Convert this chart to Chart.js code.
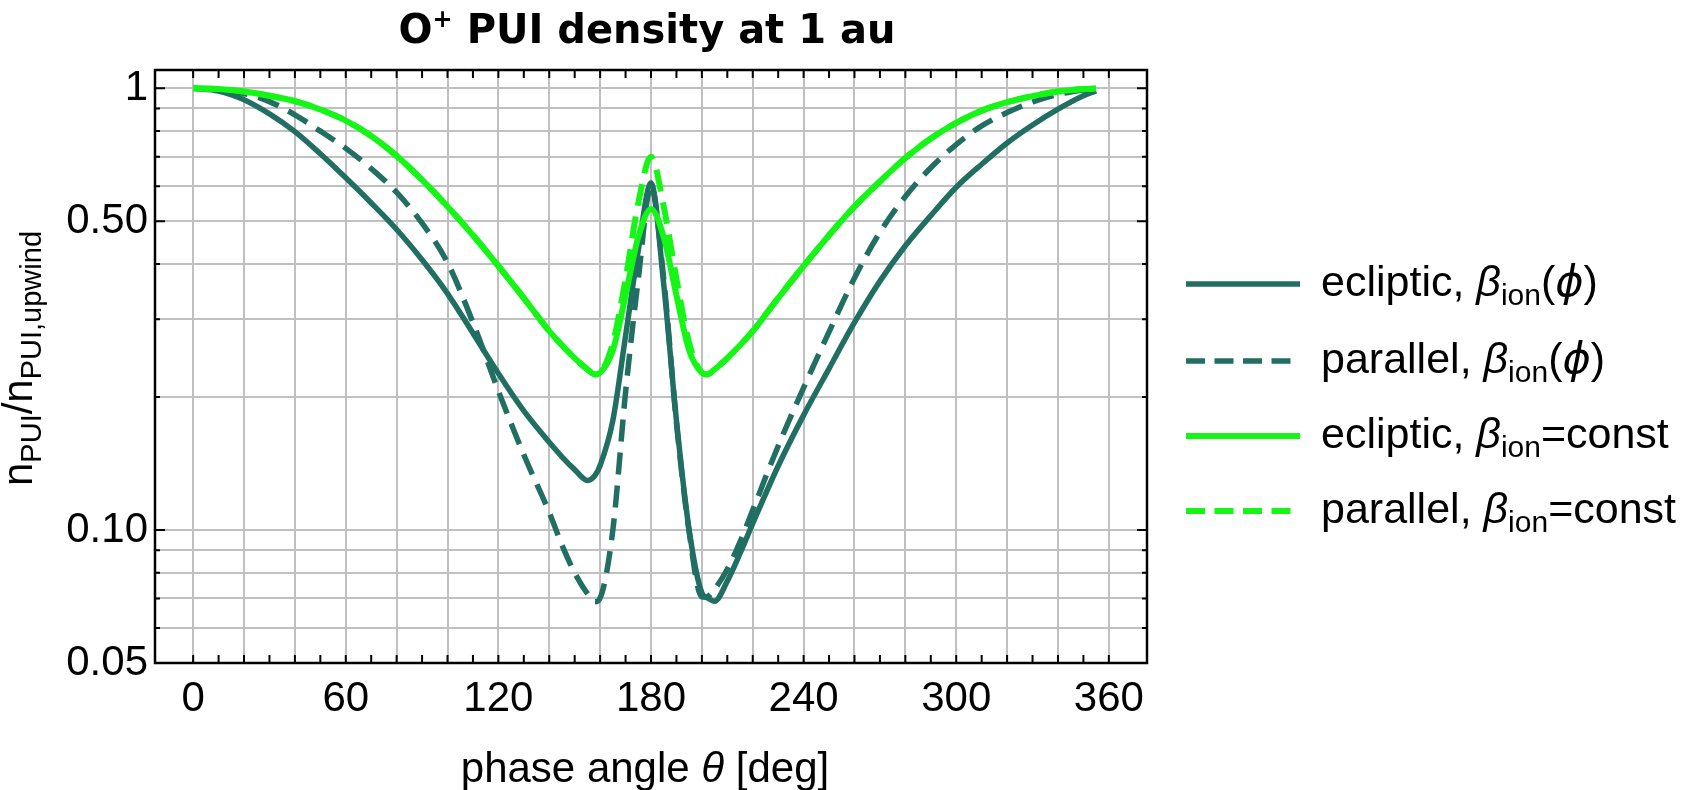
<!DOCTYPE html>
<html>
<head>
<meta charset="utf-8">
<title>O+ PUI density at 1 au</title>
<script src="https://cdn.jsdelivr.net/npm/chart.js@4.4.1/dist/chart.umd.min.js"></script>
<style>
  html, body { margin: 0; padding: 0; background: #fff; }
  canvas { display: block; }
</style>
</head>
<body>
<canvas id="pui-chart" width="1686" height="790"></canvas>
<script>
// phase angle theta [deg], finer sampling around the downwind focusing cone
const phaseAngle = [0, 10, 20, 30, 40, 50, 60, 70, 80, 90, 100, 110, 120, 130, 140,
    145, 150, 155, 158, 160, 165, 170, 175, 180, 185, 190, 195, 200, 202, 205, 210, 215,
    220, 230, 240, 250, 260, 270, 280, 290, 300, 310, 320, 330, 340, 350, 355];

// n_PUI / n_PUI,upwind
const eclipticPhi = [1.0, 0.986, 0.942, 0.875, 0.798, 0.711, 0.627, 0.55, 0.479, 0.409, 0.343, 0.279, 0.226, 0.186, 0.158,
    0.1465, 0.137, 0.1295, 0.133, 0.14, 0.177, 0.275, 0.43, 0.61, 0.36, 0.177, 0.1, 0.072, 0.0703, 0.069, 0.0766, 0.0885,
    0.1035, 0.1396, 0.182, 0.232, 0.295, 0.366, 0.44, 0.515, 0.597, 0.673, 0.752, 0.826, 0.897, 0.962, 0.986];

const parallelPhi = [1.0, 0.993, 0.973, 0.933, 0.871, 0.80, 0.731, 0.658, 0.581, 0.495, 0.403, 0.295, 0.2065, 0.148, 0.1096,
    0.0925, 0.08, 0.0718, 0.0688, 0.0702, 0.10, 0.205, 0.37, 0.60, 0.37, 0.175, 0.099, 0.0705, 0.0706, 0.0735, 0.0815, 0.094,
    0.111, 0.155, 0.21, 0.281, 0.372, 0.472, 0.569, 0.661, 0.746, 0.822, 0.881, 0.931, 0.968, 0.991, 0.998];

const eclipticConst = [1.0, 0.996, 0.983, 0.962, 0.935, 0.895, 0.845, 0.78, 0.703, 0.62, 0.54, 0.465, 0.396, 0.335, 0.282,
    0.262, 0.245, 0.231, 0.225, 0.227, 0.255, 0.34, 0.46, 0.533, 0.46, 0.34, 0.255, 0.227, 0.225, 0.231, 0.245, 0.262,
    0.282, 0.335, 0.396, 0.465, 0.54, 0.615, 0.695, 0.77, 0.835, 0.89, 0.93, 0.96, 0.983, 0.996, 0.999];

const parallelConst = [1.0, 0.996, 0.983, 0.962, 0.935, 0.895, 0.845, 0.78, 0.703, 0.62, 0.54, 0.465, 0.396, 0.335, 0.282,
    0.262, 0.245, 0.231, 0.225, 0.227, 0.265, 0.37, 0.55, 0.70, 0.54, 0.37, 0.265, 0.227, 0.225, 0.231, 0.245, 0.262,
    0.282, 0.335, 0.396, 0.465, 0.54, 0.615, 0.695, 0.77, 0.835, 0.89, 0.93, 0.96, 0.983, 0.996, 0.999];

// axes
const xTickLabels = [0, 60, 120, 180, 240, 300, 360];
const xGridLines = [0, 20, 40, 60, 80, 100, 120, 140, 160, 180, 200, 220, 240, 260, 280, 300, 320, 340, 360];
const yGridLines = [0.05, 0.06, 0.07, 0.08, 0.09, 0.1, 0.2, 0.3, 0.4, 0.5, 0.6, 0.7, 0.8, 0.9, 1];
const yTickLabels = [0.05, 0.1, 0.5, 1];
const yTickText = ['0.05', '0.10', '0.50', '1'];
const xMinorTicks = Array.from({ length: 37 }, (_, i) => i * 10);

const FONT = '"Liberation Sans", Arial, Helvetica, sans-serif';
const TITLE_FONT = '"DejaVu Sans", "Liberation Sans", sans-serif';
const teal = 'rgb(33,110,98)';
const lime = 'rgb(22,246,22)';
const dash = [22, 11];

const base = '42px ' + FONT;
const sub = '29px ' + FONT;
const ital = 'italic 42px ' + FONT;
const legBase = '43px ' + FONT;
const legSub = '30px ' + FONT;
const legItal = 'italic 43px ' + FONT;
const greekItal = 'italic 43px "DejaVu Sans", sans-serif';

function points(values) {
    return phaseAngle.map((t, i) => ({ x: t, y: values[i] }));
}

function legendRuns(geometry, tail) {
    return [
        { text: geometry + ', ', font: legBase },
        { text: '\u03B2', font: legItal },
        { text: 'ion', font: legSub, dy: 9 }
    ].concat(tail);
}

const phiTail = [{ text: '(', font: legBase }, { text: '\u03D5', font: greekItal }, { text: ')', font: legBase }];
const constTail = [{ text: '=const', font: legBase }];

const datasets = [
    { label: 'ecliptic, \u03B2ion(\u03D5)', data: points(eclipticPhi), borderColor: teal, borderWidth: 5.5,
      borderDash: [], order: 3, legendText: legendRuns('ecliptic', phiTail) },
    { label: 'parallel, \u03B2ion(\u03D5)', data: points(parallelPhi), borderColor: teal, borderWidth: 5.5,
      borderDash: dash, order: 2, legendText: legendRuns('parallel', phiTail) },
    { label: 'ecliptic, \u03B2ion=const', data: points(eclipticConst), borderColor: lime, borderWidth: 6,
      borderDash: [], order: 1, legendText: legendRuns('ecliptic', constTail) },
    { label: 'parallel, \u03B2ion=const', data: points(parallelConst), borderColor: lime, borderWidth: 6,
      borderDash: dash, order: 0, legendText: legendRuns('parallel', constTail) }
];

// draws a row of differently styled text pieces (sub/superscripts)
function drawRuns(ctx, runs, x, y, align) {
    let total = 0;
    runs.forEach(r => { ctx.font = r.font; r.w = ctx.measureText(r.text).width; total += r.w; });
    let cx = align === 'center' ? x - total / 2 : x;
    ctx.textAlign = 'left';
    ctx.textBaseline = 'alphabetic';
    runs.forEach(r => {
        ctx.font = r.font;
        ctx.fillText(r.text, cx, y + (r.dy || 0));
        cx += r.w;
    });
}

const framePlugin = {
    id: 'frame',
    afterDatasetsDraw(chart) {
        const { ctx, chartArea: a, scales: { x, y } } = chart;
        ctx.save();
        ctx.strokeStyle = '#000';
        ctx.lineWidth = 2;
        ctx.beginPath();
        xMinorTicks.forEach(v => {
            const px = x.getPixelForValue(v);
            ctx.moveTo(px, a.bottom); ctx.lineTo(px, a.bottom - 8);
            ctx.moveTo(px, a.top); ctx.lineTo(px, a.top + 8);
        });
        yGridLines.forEach(v => {
            const len = yTickLabels.includes(v) ? 10 : 5;
            const py = y.getPixelForValue(v);
            ctx.moveTo(a.left, py); ctx.lineTo(a.left + len, py);
            ctx.moveTo(a.right, py); ctx.lineTo(a.right - len, py);
        });
        ctx.stroke();
        ctx.lineWidth = 2.5;
        ctx.strokeRect(a.left, a.top, a.right - a.left, a.bottom - a.top);
        ctx.restore();
    }
};

const textPlugin = {
    id: 'texts',
    afterDraw(chart) {
        const { ctx, chartArea: a } = chart;
        ctx.save();
        ctx.fillStyle = '#000';

        // title
        drawRuns(ctx, [
            { text: 'O', font: 'bold 40px ' + TITLE_FONT },
            { text: '+', font: 'bold 24px ' + TITLE_FONT, dy: -16 },
            { text: ' PUI density at 1 au', font: 'bold 40px ' + TITLE_FONT }
        ], 647, 43, 'center');

        // x axis title
        drawRuns(ctx, [
            { text: 'phase angle ', font: base },
            { text: '\u03B8', font: ital },
            { text: ' [deg]', font: base }
        ], 645, 782, 'center');

        // y axis title, rotated
        ctx.save();
        ctx.translate(32, (a.top + a.bottom) / 2 - 8);
        ctx.rotate(-Math.PI / 2);
        drawRuns(ctx, [
            { text: 'n', font: base },
            { text: 'PUI', font: sub, dy: 9 },
            { text: '/', font: base },
            { text: 'n', font: base },
            { text: 'PUI,upwind', font: sub, dy: 9 }
        ], 0, 0, 'center');
        ctx.restore();

        // legend
        const rows = [284, 361, 436, 511];
        chart.data.datasets.forEach((ds, i) => {
            const ry = rows[i];
            const dashed = ds.borderDash.length > 0;
            ctx.save();
            ctx.strokeStyle = ds.borderColor;
            ctx.lineWidth = ds.borderWidth;
            ctx.setLineDash(dashed ? [19, 9.5] : []);
            ctx.beginPath();
            ctx.moveTo(1186, ry);
            ctx.lineTo(dashed ? 1291 : 1300, ry);
            ctx.stroke();
            ctx.restore();
            drawRuns(ctx, ds.legendText, 1321, ry + 12, 'left');
        });
        ctx.restore();
    }
};

new Chart(document.getElementById('pui-chart'), {
    type: 'line',
    data: { datasets: datasets },
    options: {
        responsive: false,
        animation: false,
        devicePixelRatio: 1,
        elements: {
            point: { radius: 0 },
            line: { cubicInterpolationMode: 'monotone', borderCapStyle: 'butt', borderJoinStyle: 'round' }
        },
        layout: { padding: { top: 70, right: 539, left: 0, bottom: 0 } },
        plugins: {
            legend: { display: false },
            title: { display: false },
            tooltip: { enabled: false }
        },
        scales: {
            x: {
                type: 'linear',
                min: -15,
                max: 375,
                afterFit: s => { s.height = 127; },
                afterBuildTicks: s => { s.ticks = xGridLines.map(v => ({ value: v })); },
                ticks: {
                    autoSkip: false,
                    maxRotation: 0,
                    padding: 11,
                    color: '#000',
                    font: { family: FONT, size: 42 },
                    callback: v => xTickLabels.includes(v) ? String(v) : ''
                },
                grid: { color: '#c0c0c0', lineWidth: 2, drawTicks: false },
                border: { display: false }
            },
            y: {
                type: 'logarithmic',
                min: 0.05,
                max: 1.1,
                afterFit: s => { s.width = 155; },
                afterBuildTicks: s => { s.ticks = yGridLines.map(v => ({ value: v })); },
                ticks: {
                    autoSkip: false,
                    padding: 7,
                    color: '#000',
                    font: { family: FONT, size: 42 },
                    callback: v => {
                        const i = yTickLabels.indexOf(v);
                        return i >= 0 ? yTickText[i] : '';
                    }
                },
                grid: { color: '#c0c0c0', lineWidth: 2, drawTicks: false },
                border: { display: false }
            }
        }
    },
    plugins: [framePlugin, textPlugin]
});
</script>
</body>
</html>
